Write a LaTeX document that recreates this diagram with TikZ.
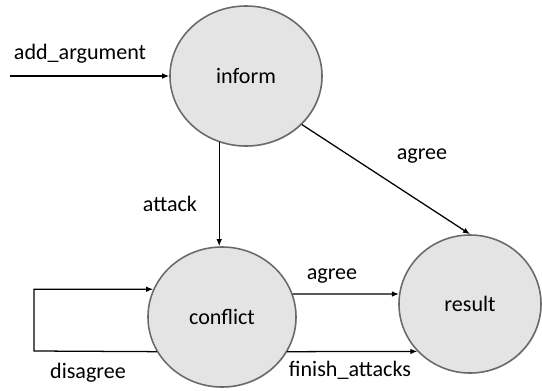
\documentclass[tikz,border=0pt]{standalone}
\usepackage{fontspec}
\setmainfont{Carlito}
\usetikzlibrary{shapes.geometric,arrows.meta,shadows}
\definecolor{statefill}{RGB}{228,228,228}
\definecolor{stateline}{RGB}{105,105,105}
\tikzset{
    state/.style={draw=stateline, fill=statefill, ellipse, line width=1.1pt,
        drop shadow={opacity=0.25, shadow xshift=0.6pt, shadow yshift=-0.6pt}},
    lbl/.style={inner sep=0pt}
}
\begin{document}
\begin{tikzpicture}[x=0.025cm, y=-0.025cm, >={Latex[length=5pt,width=4pt]}, line width=0.9pt,
    font=\fontsize{15.7}{18}\selectfont]
    \useasboundingbox (0,0) rectangle (542,390);
    \node[state, minimum width=3.8cm, minimum height=3.5cm] (inform) at (246,76) {inform};
    \node[state, minimum width=3.7cm, minimum height=3.5cm] (conflict) at (222,317) {conflict};
    \node[state, minimum width=3.55cm, minimum height=3.45cm] (result) at (470,304) {result};
    \coordinate (start) at (10,76);
    \coordinate (loop) at (34,351);
    \node[lbl] (addlabel) at (80,54) {add\_argument};
    \node[lbl] (attacklabel) at (170,204) {attack};
    \node[lbl] (agreetop) at (422,156) {agree};
    \node[lbl] (agreebottom) at (332,276) {agree};
    \node[lbl] (finishlabel) at (350,370) {finish\_attacks};
    \node[lbl] (disagreelabel) at (88,373) {disagree};
    \draw [->] (start) -- (inform);
    \draw [->] (inform.-112) -- (inform.-112 |- conflict.north);
    \draw [->] (inform.-41) -- (result.north);
    \draw [->] (conflict.18) -- (result.172);
    \draw [->] (conflict.-28) -- (result.222);
    \draw [->] (conflict.208) -- (loop) |- (conflict.158);
\end{tikzpicture}
\end{document}
